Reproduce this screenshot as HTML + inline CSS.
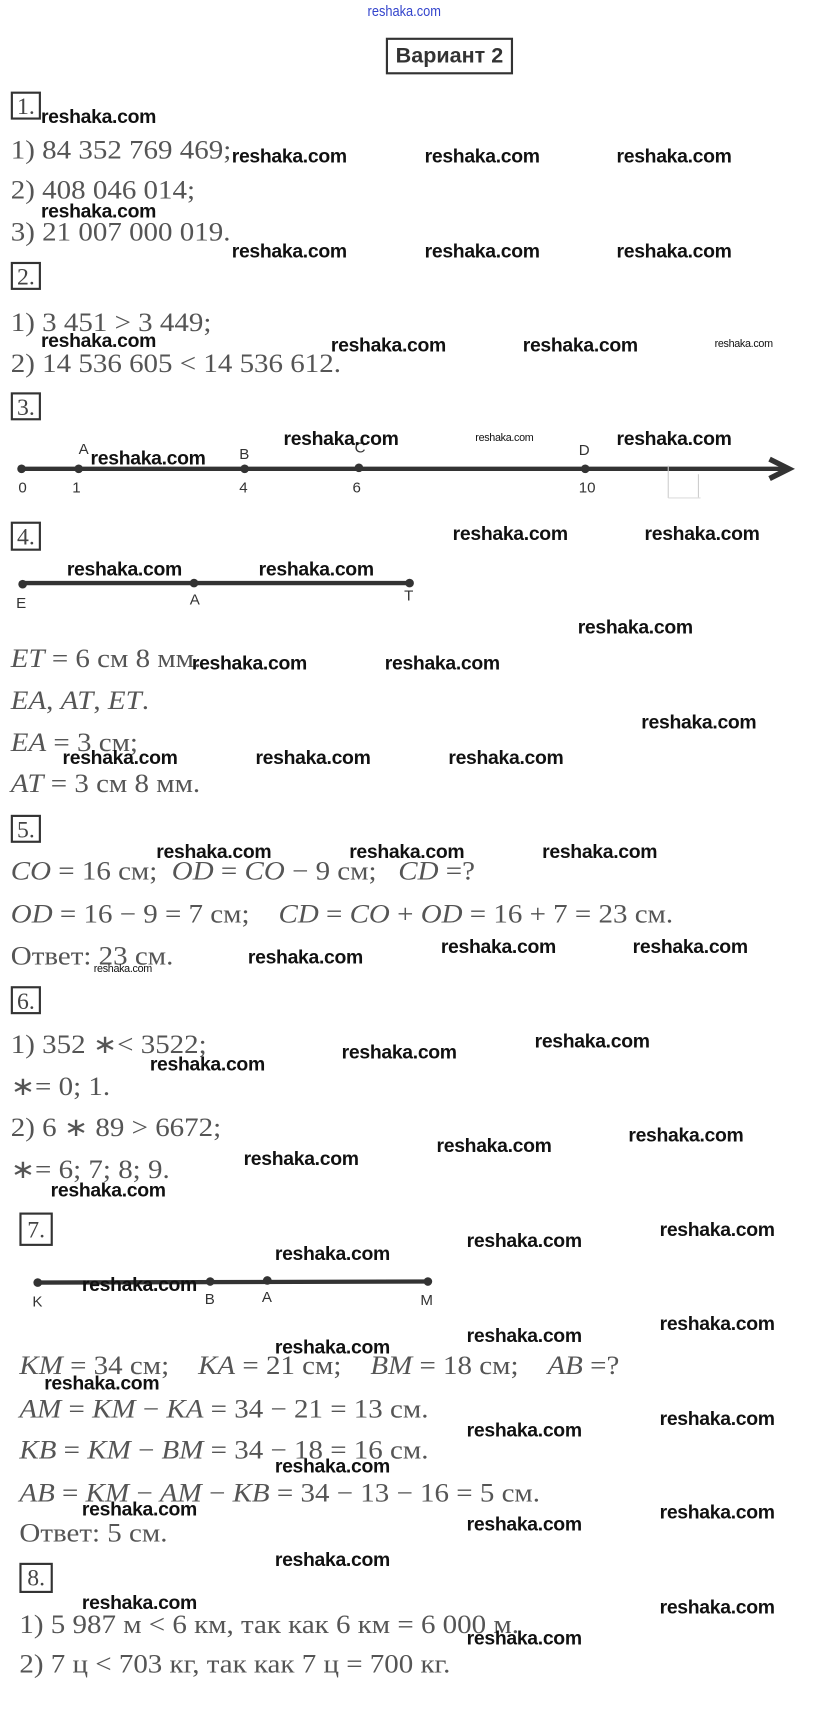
<!DOCTYPE html>
<html><head><meta charset="utf-8"><style>
html,body{margin:0;padding:0;background:#fff;width:831px;height:1719px;overflow:hidden}
#c{position:absolute;left:0;top:0;width:771px;height:1595px;transform:scale(1.0778);transform-origin:0 0}
.w{position:absolute;font:bold 18px "Liberation Sans",sans-serif;color:#111;white-space:nowrap;line-height:20px;transform:scaleX(1.0);transform-origin:0 0;letter-spacing:-0.3px}
.s{font-size:10px;font-weight:normal;line-height:12px}
.t{position:absolute;font:24px "Liberation Serif",serif;color:#555;white-space:nowrap;line-height:26px;transform:translateY(3px) scaleX(1.12);transform-origin:0 0}
.t i{font-style:italic}
.b{position:absolute;border:2px solid #333;font:22px "Liberation Serif",serif;color:#444;line-height:24px;text-align:center;box-sizing:border-box}
.l{position:absolute;font:14px "Liberation Sans",sans-serif;color:#333}
</style></head><body><div id="c">
<div style="position:absolute;left:335px;top:2px;font:14px 'Liberation Sans',sans-serif;color:#3344cc;transform:scaleX(0.85)">reshaka.com</div>
<div class="b" style="left:358px;top:35px;width:118px;height:34px;font:bold 20px 'Liberation Sans',sans-serif;line-height:30px;color:#333">Вариант 2</div>

<div class="b" style="left:10px;top:85px;width:28px;height:26px">1.</div>
<div class="t" style="left:10px;top:124px">1) 84 352 769 469;</div>
<div class="t" style="left:10px;top:161px">2) 408 046 014;</div>
<div class="t" style="left:10px;top:200px">3) 21 007 000 019.</div>
<div class="b" style="left:10px;top:243px;width:28px;height:26px">2.</div>
<div class="t" style="left:10px;top:284px">1) 3 451 &gt; 3 449;</div>
<div class="t" style="left:10px;top:322px">2) 14 536 605 &lt; 14 536 612.</div>
<div class="b" style="left:10px;top:364px;width:28px;height:26px">3.</div>

<svg style="position:absolute;left:0;top:0" width="771" height="1595">
<line x1="18" y1="435" x2="728" y2="435" stroke="#333" stroke-width="4"/>
<polyline points="714,426 732,435 714,444" fill="none" stroke="#333" stroke-width="5"/>
<g fill="#333"><circle cx="20" cy="435" r="4"/><circle cx="73" cy="435" r="4"/><circle cx="227" cy="435" r="4"/><circle cx="333" cy="434" r="4"/><circle cx="543" cy="435" r="4"/></g>
<line x1="620" y1="432" x2="620" y2="462" stroke="#ccc"/><line x1="648" y1="440" x2="648" y2="462" stroke="#ccc"/><line x1="620" y1="462" x2="650" y2="462" stroke="#ddd"/>
<line x1="20" y1="541" x2="380" y2="541" stroke="#333" stroke-width="4"/>
<g fill="#333"><circle cx="21" cy="542" r="4"/><circle cx="180" cy="541" r="4"/><circle cx="380" cy="541" r="4"/></g>
<line x1="35" y1="1190" x2="397" y2="1189" stroke="#333" stroke-width="4"/>
<g fill="#333"><circle cx="35" cy="1190" r="4"/><circle cx="195" cy="1189" r="4"/><circle cx="248" cy="1188" r="4"/><circle cx="397" cy="1189" r="4"/></g>
</svg>
<div class="l" style="left:73px;top:408px">A</div><div class="l" style="left:222px;top:413px">B</div><div class="l" style="left:329px;top:407px">C</div><div class="l" style="left:537px;top:409px">D</div>
<div class="l" style="left:17px;top:444px">0</div><div class="l" style="left:67px;top:444px">1</div><div class="l" style="left:222px;top:444px">4</div><div class="l" style="left:327px;top:444px">6</div><div class="l" style="left:537px;top:444px">10</div>

<div class="b" style="left:10px;top:484px;width:28px;height:27px">4.</div>
<div class="l" style="left:15px;top:551px">E</div><div class="l" style="left:176px;top:548px">A</div><div class="l" style="left:375px;top:544px">T</div>
<div class="t" style="left:10px;top:596px"><i>ET</i> = 6 см 8 мм.</div>
<div class="t" style="left:10px;top:635px"><i>EA</i>, <i>AT</i>, <i>ET</i>.</div>
<div class="t" style="left:10px;top:674px"><i>EA</i> = 3 см;</div>
<div class="t" style="left:10px;top:712px"><i>AT</i> = 3 см 8 мм.</div>
<div class="b" style="left:10px;top:756px;width:28px;height:26px">5.</div>
<div class="t" style="left:10px;top:793px"><i>CO</i> = 16 см;&nbsp; <i>OD</i> = <i>CO</i> − 9 см;&nbsp;&nbsp; <i>CD</i> =?</div>
<div class="t" style="left:10px;top:833px"><i>OD</i> = 16 − 9 = 7 см;&nbsp;&nbsp;&nbsp; <i>CD</i> = <i>CO</i> + <i>OD</i> = 16 + 7 = 23 см.</div>
<div class="t" style="left:10px;top:872px">Ответ: 23 см.</div>
<div class="b" style="left:10px;top:915px;width:28px;height:26px">6.</div>
<div class="t" style="left:10px;top:954px">1) 352 ∗&lt; 3522;</div>
<div class="t" style="left:10px;top:993px">∗= 0; 1.</div>
<div class="t" style="left:10px;top:1031px">2) 6 ∗ 89 &gt; 6672;</div>
<div class="t" style="left:10px;top:1070px">∗= 6; 7; 8; 9.</div>

<div class="b" style="left:18px;top:1125px;width:31px;height:31px;line-height:28px">7.</div>
<div class="l" style="left:30px;top:1199px">K</div><div class="l" style="left:190px;top:1197px">B</div><div class="l" style="left:243px;top:1195px">A</div><div class="l" style="left:390px;top:1198px">M</div>
<div class="t" style="left:18px;top:1252px"><i>KM</i> = 34 см;&nbsp;&nbsp;&nbsp; <i>KA</i> = 21 см;&nbsp;&nbsp;&nbsp; <i>BM</i> = 18 см;&nbsp;&nbsp;&nbsp; <i>AB</i> =?</div>
<div class="t" style="left:18px;top:1292px"><i>AM</i> = <i>KM</i> − <i>KA</i> = 34 − 21 = 13 см.</div>
<div class="t" style="left:18px;top:1330px"><i>KB</i> = <i>KM</i> − <i>BM</i> = 34 − 18 = 16 см.</div>
<div class="t" style="left:18px;top:1370px"><i>AB</i> = <i>KM</i> − <i>AM</i> − <i>KB</i> = 34 − 13 − 16 = 5 см.</div>
<div class="t" style="left:18px;top:1407px">Ответ: 5 см.</div>
<div class="b" style="left:18px;top:1450px;width:31px;height:28px">8.</div>
<div class="t" style="left:18px;top:1492px">1) 5 987 м &lt; 6 км, так как 6 км = 6 000 м.</div>
<div class="t" style="left:18px;top:1529px">2) 7 ц &lt; 703 кг, так как 7 ц = 700 кг.</div>

<div class="w" style="left:38px;top:98px">reshaka.com</div>
<div class="w" style="left:215px;top:135px">reshaka.com</div><div class="w" style="left:394px;top:135px">reshaka.com</div><div class="w" style="left:572px;top:135px">reshaka.com</div>
<div class="w" style="left:38px;top:186px">reshaka.com</div>
<div class="w" style="left:215px;top:223px">reshaka.com</div><div class="w" style="left:394px;top:223px">reshaka.com</div><div class="w" style="left:572px;top:223px">reshaka.com</div>
<div class="w" style="left:38px;top:306px">reshaka.com</div><div class="w" style="left:307px;top:310px">reshaka.com</div><div class="w" style="left:485px;top:310px">reshaka.com</div>
<div class="w s" style="left:663px;top:314px">reshaka.com</div>
<div class="w" style="left:263px;top:397px">reshaka.com</div><div class="w s" style="left:441px;top:401px">reshaka.com</div><div class="w" style="left:572px;top:397px">reshaka.com</div>
<div class="w" style="left:84px;top:415px">reshaka.com</div>
<div class="w" style="left:420px;top:485px">reshaka.com</div><div class="w" style="left:598px;top:485px">reshaka.com</div>
<div class="w" style="left:62px;top:518px">reshaka.com</div><div class="w" style="left:240px;top:518px">reshaka.com</div>
<div class="w" style="left:536px;top:572px">reshaka.com</div>
<div class="w" style="left:178px;top:605px">reshaka.com</div><div class="w" style="left:357px;top:605px">reshaka.com</div>
<div class="w" style="left:595px;top:660px">reshaka.com</div>
<div class="w" style="left:58px;top:693px">reshaka.com</div><div class="w" style="left:237px;top:693px">reshaka.com</div><div class="w" style="left:416px;top:693px">reshaka.com</div>
<div class="w" style="left:145px;top:780px">reshaka.com</div><div class="w" style="left:324px;top:780px">reshaka.com</div><div class="w" style="left:503px;top:780px">reshaka.com</div>
<div class="w" style="left:230px;top:878px">reshaka.com</div><div class="w" style="left:409px;top:868px">reshaka.com</div><div class="w" style="left:587px;top:868px">reshaka.com</div>
<div class="w s" style="left:87px;top:894px">reshaka.com</div>
<div class="w" style="left:496px;top:956px">reshaka.com</div><div class="w" style="left:317px;top:966px">reshaka.com</div><div class="w" style="left:139px;top:977px">reshaka.com</div>
<div class="w" style="left:583px;top:1043px">reshaka.com</div><div class="w" style="left:405px;top:1053px">reshaka.com</div><div class="w" style="left:226px;top:1065px">reshaka.com</div>
<div class="w" style="left:47px;top:1094px">reshaka.com</div>
<div class="w" style="left:612px;top:1131px">reshaka.com</div><div class="w" style="left:433px;top:1141px">reshaka.com</div><div class="w" style="left:255px;top:1153px">reshaka.com</div>
<div class="w" style="left:76px;top:1182px">reshaka.com</div>
<div class="w" style="left:612px;top:1218px">reshaka.com</div><div class="w" style="left:433px;top:1229px">reshaka.com</div><div class="w" style="left:255px;top:1240px">reshaka.com</div>
<div class="w" style="left:41px;top:1273px">reshaka.com</div>
<div class="w" style="left:612px;top:1306px">reshaka.com</div><div class="w" style="left:433px;top:1317px">reshaka.com</div><div class="w" style="left:255px;top:1350px">reshaka.com</div>
<div class="w" style="left:76px;top:1390px">reshaka.com</div>
<div class="w" style="left:612px;top:1393px">reshaka.com</div><div class="w" style="left:433px;top:1404px">reshaka.com</div>
<div class="w" style="left:255px;top:1437px">reshaka.com</div>
<div class="w" style="left:76px;top:1477px">reshaka.com</div><div class="w" style="left:612px;top:1481px">reshaka.com</div><div class="w" style="left:433px;top:1510px">reshaka.com</div>
</div></body></html>
